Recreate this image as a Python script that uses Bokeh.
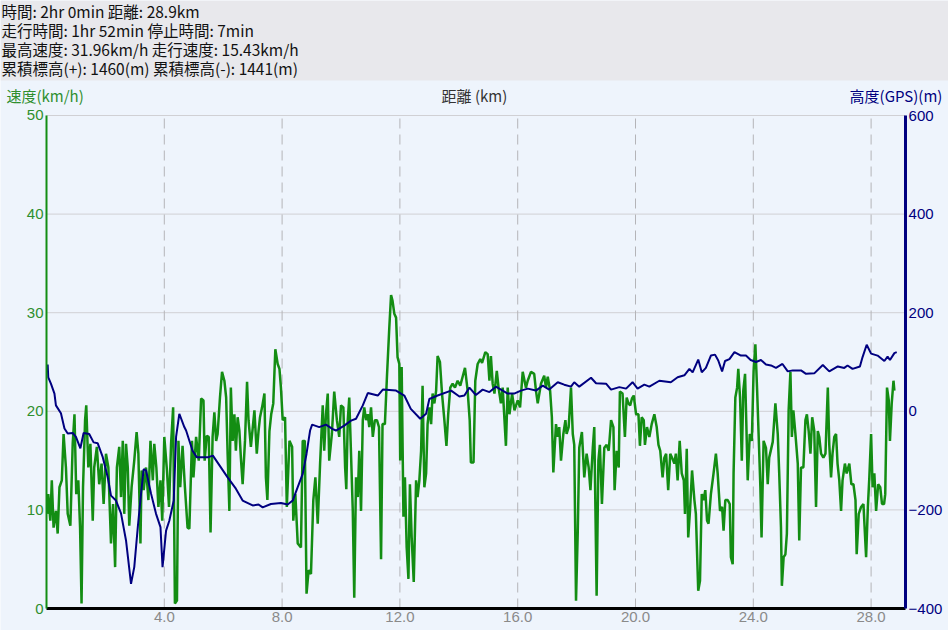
from bokeh.plotting import figure
from bokeh.models import Range1d, LinearAxis, FixedTicker, NumeralTickFormatter
from bokeh.core.properties import value
from bokeh.embed import file_html
from bokeh.resources import INLINE

# ---------------- header texts ----------------
header_lines = [
    "時間: 2hr 0min 距離: 28.9km",
    "走行時間: 1hr 52min 停止時間: 7min",
    "最高速度: 31.96km/h 走行速度: 15.43km/h",
    "累積標高(+): 1460(m) 累積標高(-): 1441(m)",
]
speed_title = "速度(km/h)"
dist_title = "距離 (km)"
elev_title = "高度(GPS)(m)"

# ---------------- axis extents & tick values ----------------
dist_max = 29.17
speed_ticks = [0, 10, 20, 30, 40, 50]
elev_ticks = [-400, -200, 0, 200, 400, 600]
dist_ticks = [4, 8, 12, 16, 20, 24, 28]

# ---------------- speed (km, km/h) ----------------
speed_0_5 = [(0.04, 9.6), (0.06, 11.6), (0.13, 8.9), (0.18, 13.0), (0.24, 8.2), (0.32, 9.9), (0.38, 7.6),
             (0.44, 12.3), (0.52, 13.0), (0.58, 17.7), (0.66, 14.3), (0.72, 9.6), (0.81, 8.4), (0.89, 16.7),
             (0.95, 19.7), (1.01, 11.6), (1.08, 13.0), (1.14, 8.2), (1.19, 0.5), (1.24, 12.3), (1.31, 19.1),
             (1.35, 20.6), (1.42, 14.3), (1.49, 16.7), (1.57, 8.9), (1.62, 14.3), (1.71, 16.4), (1.79, 12.6),
             (1.87, 14.7), (1.94, 10.6), (2.02, 15.7), (2.10, 14.3), (2.19, 6.6), (2.26, 10.6), (2.33, 4.2),
             (2.39, 14.3), (2.47, 16.4), (2.53, 11.3), (2.59, 17.0), (2.64, 9.6), (2.70, 16.7), (2.76, 14.3),
             (2.81, 8.4), (2.89, 12.3), (2.98, 15.0), (3.06, 17.9), (3.12, 15.7), (3.19, 6.6), (3.23, 14.0),
             (3.30, 12.0), (3.38, 14.3), (3.46, 11.0), (3.53, 17.0), (3.61, 13.0), (3.66, 16.7), (3.73, 14.3),
             (3.80, 10.3), (3.87, 13.0), (3.93, 8.9), (4.00, 17.4), (4.09, 14.0), (4.16, 10.3), (4.23, 16.7),
             (4.30, 20.4), (4.36, 0.5), (4.43, 0.8), (4.48, 17.0), (4.54, 12.3), (4.62, 16.5), (4.70, 12.3),
             (4.79, 8.2)]
speed_5_10 = [(4.85, 8.1), (4.94, 17.0), (4.99, 13.3), (5.08, 17.4), (5.17, 15.0), (5.25, 21.3), (5.33, 21.1),
              (5.37, 15.0), (5.44, 17.5), (5.51, 17.4), (5.57, 7.7), (5.64, 17.4), (5.70, 19.9), (5.76, 17.0),
              (5.81, 17.7), (5.89, 21.4), (5.96, 24.0), (6.04, 23.1), (6.10, 21.4), (6.15, 15.7), (6.21, 9.9),
              (6.26, 22.4), (6.32, 17.0), (6.38, 19.7), (6.43, 16.0), (6.49, 19.4), (6.55, 18.0), (6.60, 15.3),
              (6.66, 12.6), (6.74, 17.0), (6.81, 23.0), (6.86, 19.1), (6.94, 16.4), (7.06, 20.1), (7.14, 15.7),
              (7.20, 18.0), (7.25, 19.4), (7.32, 20.4), (7.40, 21.8), (7.45, 13.3), (7.50, 11.0), (7.57, 18.0),
              (7.63, 19.7), (7.70, 20.8), (7.77, 26.3), (7.85, 24.8), (7.91, 24.3), (7.96, 22.4), (8.02, 19.1),
              (8.10, 19.4), (8.16, 10.3), (8.25, 17.0), (8.34, 16.4), (8.38, 8.9), (8.45, 11.6), (8.53, 6.6),
              (8.64, 6.2), (8.70, 17.0), (8.77, 17.0), (8.83, 1.5), (8.90, 3.9), (8.98, 3.5), (9.06, 11.0),
              (9.13, 13.3), (9.21, 8.6), (9.29, 14.7), (9.38, 20.6), (9.43, 16.0), (9.49, 19.7), (9.55, 21.8),
              (9.60, 15.0), (9.69, 17.7), (9.77, 22.0)]
speed_10_15 = [(9.86, 19.1), (9.94, 17.4), (10.00, 20.6), (10.08, 20.4), (10.14, 14.3), (10.18, 12.1),
               (10.23, 19.1), (10.28, 21.4), (10.34, 15.7), (10.40, 9.9), (10.45, 1.1), (10.51, 13.3),
               (10.57, 11.3), (10.62, 16.0), (10.68, 9.9), (10.74, 19.1), (10.79, 20.4), (10.85, 19.1),
               (10.91, 19.7), (10.96, 18.4), (11.02, 20.4), (11.08, 17.4), (11.15, 19.1), (11.22, 19.1),
               (11.29, 18.4), (11.36, 5.0), (11.41, 18.7), (11.49, 18.7), (11.56, 23.5), (11.64, 28.5),
               (11.70, 31.8), (11.75, 31.2), (11.81, 29.9), (11.87, 29.5), (11.92, 25.5), (11.98, 24.8),
               (12.01, 15.0), (12.06, 24.5), (12.12, 9.3), (12.17, 13.3), (12.23, 6.2), (12.29, 3.0),
               (12.34, 12.6), (12.40, 7.2), (12.47, 2.7), (12.55, 13.0), (12.60, 11.3), (12.66, 13.0),
               (12.72, 16.0), (12.77, 22.6), (12.83, 12.3), (12.89, 13.7), (12.94, 18.7), (13.00, 20.4),
               (13.06, 18.7), (13.11, 21.8), (13.17, 20.8), (13.23, 22.1), (13.28, 25.6), (13.36, 25.0),
               (13.43, 21.8), (13.51, 19.1), (13.58, 16.5), (13.64, 19.7), (13.71, 22.4), (13.79, 22.8),
               (13.87, 22.4), (13.96, 23.1), (14.05, 22.6), (14.13, 23.5), (14.21, 24.4), (14.30, 22.1),
               (14.37, 19.1), (14.41, 14.8), (14.50, 14.8), (14.56, 23.1), (14.64, 24.8), (14.73, 25.3)]
speed_15_20 = [(14.79, 24.9), (14.90, 26.0), (14.98, 25.8), (15.04, 23.1), (15.09, 25.6), (15.15, 22.8),
               (15.21, 21.8), (15.29, 24.1), (15.35, 22.4), (15.43, 20.8), (15.49, 22.4), (15.60, 16.5),
               (15.66, 22.4), (15.72, 19.7), (15.81, 21.8), (15.89, 20.1), (16.00, 21.1), (16.08, 20.4),
               (16.17, 24.0), (16.28, 22.4), (16.34, 23.1), (16.45, 24.0), (16.56, 23.8), (16.62, 22.1),
               (16.68, 20.8), (16.79, 22.8), (16.90, 23.6), (16.96, 22.4), (17.02, 23.5), (17.10, 22.1),
               (17.16, 19.4), (17.21, 13.8), (17.30, 18.7), (17.36, 17.4), (17.41, 18.4), (17.47, 15.0),
               (17.55, 17.7), (17.62, 19.1), (17.66, 17.7), (17.73, 18.4), (17.81, 22.4), (17.87, 17.7),
               (17.92, 16.6), (17.98, 0.8), (18.04, 7.9), (18.09, 16.3), (18.18, 17.9), (18.26, 13.3),
               (18.34, 15.7), (18.41, 14.3), (18.47, 12.0), (18.55, 16.3), (18.60, 18.4), (18.64, 9.9),
               (18.68, 1.3), (18.74, 15.0), (18.79, 16.6), (18.86, 10.6), (18.94, 16.3), (19.02, 16.6),
               (19.09, 16.0), (19.17, 19.1), (19.25, 18.4), (19.29, 12.0), (19.36, 16.0), (19.43, 14.3),
               (19.47, 22.0), (19.56, 21.8)]
speed_20_25 = [(19.64, 17.4), (19.70, 21.4), (19.76, 20.8), (19.82, 20.6), (19.88, 21.3), (19.94, 21.6),
               (20.02, 19.7), (20.10, 19.7), (20.15, 16.5), (20.21, 19.4), (20.28, 19.1), (20.32, 16.6),
               (20.39, 18.4), (20.47, 17.4), (20.55, 18.7), (20.64, 19.7), (20.72, 18.4), (20.78, 16.6),
               (20.84, 16.0), (20.92, 13.3), (20.98, 15.3), (21.04, 15.7), (21.11, 12.0), (21.18, 15.7),
               (21.24, 15.3), (21.32, 14.7), (21.37, 15.7), (21.43, 13.0), (21.50, 17.0), (21.57, 13.7),
               (21.64, 13.0), (21.68, 9.6), (21.74, 16.2), (21.79, 7.2), (21.85, 9.9), (21.92, 14.0),
               (22.00, 11.0), (22.05, 9.6), (22.13, 1.8), (22.19, 2.8), (22.25, 11.6), (22.31, 11.0),
               (22.37, 12.0), (22.43, 8.9), (22.48, 8.6), (22.56, 11.6), (22.65, 13.7), (22.73, 15.7),
               (22.79, 13.7), (22.87, 9.9), (22.94, 10.3), (22.99, 7.9), (23.05, 11.0), (23.13, 11.0),
               (23.20, 10.6), (23.24, 5.2), (23.30, 4.5), (23.33, 13.7), (23.39, 21.4), (23.45, 22.4),
               (23.49, 24.3), (23.55, 21.4), (23.61, 15.0), (23.66, 22.1), (23.72, 23.8), (23.76, 19.1),
               (23.81, 13.0), (23.88, 17.7), (23.95, 17.0), (24.01, 24.1), (24.07, 26.8), (24.13, 22.1),
               (24.18, 17.7), (24.24, 12.3), (24.28, 7.2), (24.35, 17.0), (24.43, 16.3), (24.49, 12.6),
               (24.54, 15.3)]
speed_25_29 = [(24.66, 16.9), (24.75, 20.8), (24.83, 17.7), (24.88, 13.7), (24.94, 8.2), (24.97, 2.3),
               (25.03, 5.2), (25.09, 5.5), (25.14, 7.6), (25.20, 20.1), (25.26, 24.0), (25.31, 17.4),
               (25.36, 20.1), (25.43, 17.7), (25.51, 14.7), (25.56, 6.9), (25.62, 14.3), (25.70, 14.3),
               (25.77, 19.1), (25.82, 19.7), (25.88, 18.0), (25.94, 15.7), (26.00, 19.4), (26.07, 18.0),
               (26.13, 10.3), (26.19, 18.0), (26.24, 17.4), (26.30, 15.7), (26.38, 15.3), (26.45, 15.7),
               (26.53, 22.4), (26.58, 16.6), (26.64, 13.3), (26.69, 15.7), (26.75, 17.4), (26.81, 17.7),
               (26.86, 14.7), (26.92, 13.0), (26.98, 9.9), (27.03, 13.0), (27.11, 14.7), (27.17, 13.7),
               (27.26, 14.7), (27.33, 12.6), (27.40, 12.6), (27.47, 11.0), (27.51, 5.5), (27.58, 9.6),
               (27.66, 10.3), (27.74, 10.6), (27.83, 5.2), (27.89, 10.3), (27.94, 13.3), (28.00, 17.7),
               (28.05, 12.3), (28.11, 13.7), (28.17, 9.9), (28.24, 12.6), (28.31, 12.3), (28.37, 10.6),
               (28.44, 10.6), (28.48, 11.6), (28.54, 22.4), (28.60, 21.1), (28.64, 17.0), (28.70, 20.8),
               (28.76, 23.1), (28.79, 22.1)]

# ---------------- elevation (km, m) ----------------
elev_0_10 = [(0.04, 95), (0.06, 69), (0.15, 56), (0.27, 36), (0.32, 12), (0.49, -4), (0.61, -35), (0.72, -45),
             (0.89, -44), (1.00, -52), (1.15, -75), (1.26, -44), (1.45, -46), (1.60, -63), (1.74, -65),
             (1.91, -93), (2.08, -134), (2.19, -171), (2.36, -181), (2.53, -207), (2.70, -262), (2.87, -350),
             (2.98, -316), (3.10, -235), (3.21, -167), (3.30, -117), (3.38, -120), (3.55, -167), (3.72, -208),
             (3.87, -235), (3.94, -316), (4.06, -242), (4.17, -222), (4.32, -181), (4.40, -52), (4.51, -5),
             (4.68, -32), (4.74, -39), (4.96, -80), (5.10, -93), (5.50, -93), (5.65, -90), (6.15, -134),
             (6.43, -157), (6.66, -181), (7.00, -191), (7.20, -189), (7.34, -195), (7.62, -188), (7.96, -186),
             (8.19, -189), (8.36, -181), (8.53, -154), (8.70, -127), (8.83, -86), (8.95, -39), (9.02, -27),
             (9.26, -32), (9.49, -27), (9.72, -36), (9.83, -39)]
elev_10_20 = [(10.11, -29), (10.34, -19), (10.51, -15), (10.74, 12), (10.91, 37), (11.25, 32), (11.42, 44),
              (11.87, 42), (12.15, 32), (12.37, 5), (12.69, -15), (12.89, -5), (13.00, 25), (13.28, 32),
              (13.74, 42), (14.02, 30), (14.19, 32), (14.36, 48), (14.58, 33), (14.81, 44), (15.04, 39),
              (15.26, 50), (15.49, 42), (15.66, 36), (15.88, 36), (16.11, 42), (16.34, 46), (16.62, 42),
              (16.85, 52), (17.07, 44), (17.36, 59), (17.58, 54), (17.81, 50), (17.92, 59), (18.09, 50),
              (18.49, 68), (18.66, 57), (19.00, 56), (19.17, 44), (19.45, 49), (19.68, 46), (19.90, 59)]
elev_20_29 = [(20.07, 46), (20.30, 54), (20.47, 50), (20.81, 62), (21.20, 59), (21.43, 69), (21.66, 73),
              (21.83, 86), (21.94, 79), (22.13, 105), (22.25, 79), (22.39, 88), (22.56, 113), (22.70, 115),
              (22.81, 103), (22.94, 81), (23.04, 102), (23.19, 106), (23.36, 120), (23.58, 113), (23.75, 113),
              (23.91, 104), (24.09, 100), (24.26, 104), (24.43, 95), (24.60, 93), (24.77, 88), (24.99, 96),
              (25.17, 81), (25.34, 83), (25.62, 83), (25.79, 76), (26.07, 77), (26.36, 94), (26.58, 81),
              (26.87, 91), (27.09, 88), (27.20, 93), (27.37, 86), (27.62, 91), (27.71, 110), (27.85, 135),
              (28.00, 117), (28.22, 113), (28.45, 102), (28.56, 111), (28.64, 104), (28.79, 118), (28.87, 120)]

speed_pts = speed_0_5 + speed_5_10 + speed_10_15 + speed_15_20 + speed_20_25 + speed_25_29
elev_pts = elev_0_10 + elev_10_20 + elev_20_29
speed_x = [pt[0] for pt in speed_pts]
speed_y = [pt[1] for pt in speed_pts]
elev_x = [pt[0] for pt in elev_pts]
elev_y = [pt[1] for pt in elev_pts]

# ---------------- styles ----------------
BG = "#eef4fc"
HEAD_BG = "#e8e8ec"
GREEN = "#138d13"
GREEN_TXT = "#2e8f2e"
NAVY = "#000080"
CJK = value("Noto Sans CJK JP")
TICK_FONT = "Liberation Sans"

W, H = 948, 630
# The frame covers the whole canvas, so header texts and all tick labels live inside it.
# Scales: 29.45 px per km (0 km at x=46), 9.86 px per km/h (0 at y=608), 0.493 px per metre.
x_lo, x_hi = -1.562, 30.628
s_lo, s_hi = -2.231, 61.663
e_lo, e_hi = -444.62, 833.27

p = figure(width=W, height=H, x_range=Range1d(x_lo, x_hi), y_range=Range1d(s_lo, s_hi),
           toolbar_location=None, output_backend="svg",
           min_border_left=0, min_border_right=0, min_border_top=0, min_border_bottom=0,
           background_fill_color=BG, border_fill_color=BG, outline_line_color=None)
p.extra_y_ranges = {"elev": Range1d(e_lo, e_hi)}
p.grid.visible = False

# ---- axes ----
xa = p.xaxis[0]
xa.ticker = FixedTicker(ticks=dist_ticks)
xa.formatter = NumeralTickFormatter(format="0.0")
xa.bounds = (0, dist_max)
xa.fixed_location = 0

ya = p.yaxis[0]
ya.ticker = FixedTicker(ticks=speed_ticks)
ya.bounds = (speed_ticks[0], speed_ticks[-1])
ya.fixed_location = 0

right = LinearAxis(y_range_name="elev", ticker=FixedTicker(ticks=elev_ticks),
                   bounds=(elev_ticks[0], elev_ticks[-1]), fixed_location=dist_max)
p.add_layout(right, "right")

for ax in [xa, ya, right]:
    ax.major_tick_line_color = None
    ax.minor_tick_line_color = None
    ax.major_tick_out = 0
    ax.major_tick_in = 0
    ax.minor_tick_out = 0
    ax.minor_tick_in = 0
    ax.major_label_text_font = TICK_FONT
    ax.major_label_text_font_size = "15px"

ya.axis_line_color = GREEN
ya.axis_line_width = 2
ya.major_label_text_color = GREEN_TXT
ya.major_label_standoff = 3

right.axis_line_color = NAVY
right.axis_line_width = 3
right.major_label_text_color = NAVY
right.major_label_standoff = 3

xa.axis_line_color = "#000000"
xa.axis_line_width = 3
xa.major_label_text_color = "#8a8a8a"
xa.major_label_standoff = 3

# ---- grid lines inside the plotting area ----
p.segment(x0=[0] * 5, x1=[dist_max] * 5, y0=speed_ticks[1:], y1=speed_ticks[1:],
          line_color="#d0d0d4", line_width=1)
p.segment(x0=dist_ticks, x1=dist_ticks, y0=[0] * len(dist_ticks), y1=[50] * len(dist_ticks),
          line_color="#b4b4b8", line_width=1, line_dash="10 6")

# ---- data lines ----
p.line(speed_x, speed_y, line_color=GREEN, line_width=2.5)
p.line(elev_x, elev_y, y_range_name="elev", line_color=NAVY, line_width=2)

# ---- header band & texts ----
p.quad(left=[x_lo], right=[x_hi], bottom=[53.55], top=[s_hi], fill_color=HEAD_BG, line_color=None)
p.text(x=[-1.53] * 4, y=[60.6, 58.68, 56.76, 54.84], text=header_lines,
       text_font=CJK, text_font_size="15.5px", text_color="#111111",
       text_baseline="middle", text_align="left")
p.text(x=[-1.36], y=[52.03], text=[speed_title], text_font=CJK, text_font_size="15px",
       text_color=GREEN_TXT, text_baseline="middle", text_align="left")
p.text(x=[14.53], y=[52.03], text=[dist_title], text_font=CJK, text_font_size="15px",
       text_color="#333333", text_baseline="middle", text_align="center")
p.text(x=[30.42], y=[52.03], text=[elev_title], text_font=CJK, text_font_size="15px",
       text_color=NAVY, text_baseline="middle", text_align="right")

open("out.html", "w").write(file_html(p, INLINE))
